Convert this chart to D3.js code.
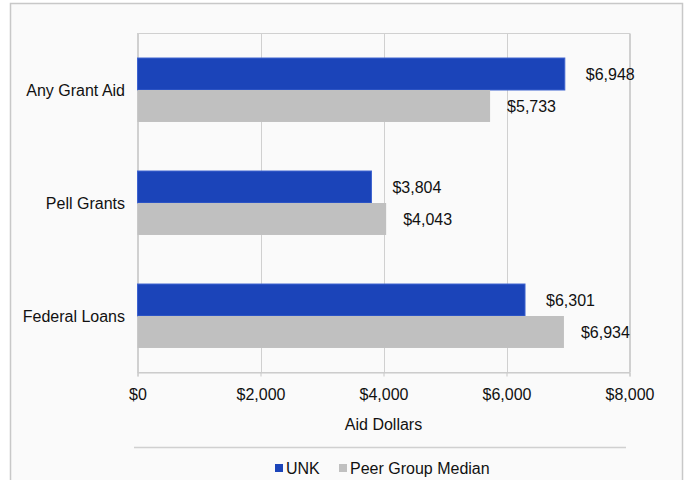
<!DOCTYPE html>
<html>
<head>
<meta charset="utf-8">
<script src="https://cdn.jsdelivr.net/npm/d3@7/dist/d3.min.js"></script>
<style>
  html, body { margin: 0; padding: 0; background: #ffffff; }
  svg { display: block; font-family: "Liberation Sans", Arial, sans-serif; }
</style>
</head>
<body>
<svg id="chart" width="686" height="480"></svg>
<script>
// Average aid amounts by type
const categories = ["Any Grant Aid", "Pell Grants", "Federal Loans"];
const seriesNames = ["UNK", "Peer Group Median"];
const unkValues = [6948, 3804, 6301];
const peerValues = [5733, 4043, 6934];
const tickValues = [0, 2000, 4000, 6000, 8000];
const axisTitle = "Aid Dollars";

const colors = { "UNK": "#1b44b9", "Peer Group Median": "#c0c0c0" };
const fmt = v => "$" + d3.format(",")(v);

const svg = d3.select("#chart");

// Chart frame
svg.append("rect")
  .attr("x", 10.5).attr("y", 3.5)
  .attr("width", 672).attr("height", 490)
  .attr("fill", "#fafafa")
  .attr("stroke", "#c8c8c8").attr("stroke-width", 1.5);

const plot = { left: 137.5, right: 629.5, top: 33.5, bottom: 372.5 };

const x = d3.scaleLinear().domain([0, 8000]).range([plot.left, plot.right]);
const y = d3.scaleBand().domain(categories)
  .range([plot.top, plot.bottom])
  .paddingInner(0.434).paddingOuter(0.217);
const ySub = d3.scaleBand().domain(seriesNames).range([0, y.bandwidth()]);

// Plot area border
svg.append("rect")
  .attr("x", plot.left).attr("y", plot.top)
  .attr("width", plot.right - plot.left).attr("height", plot.bottom - plot.top)
  .attr("fill", "none").attr("stroke", "#d0d0d0").attr("stroke-width", 1);

// Vertical gridlines
svg.append("g").selectAll("line")
  .data(tickValues)
  .join("line")
  .attr("x1", d => Math.round(x(d)) + 0.5).attr("x2", d => Math.round(x(d)) + 0.5)
  .attr("y1", plot.top).attr("y2", plot.bottom)
  .attr("stroke", "#d0d0d0").attr("stroke-width", 1);

// X axis
const xAxis = svg.append("g")
  .attr("transform", `translate(0,${plot.bottom})`)
  .call(d3.axisBottom(x).tickValues(tickValues).tickFormat(fmt).tickSizeOuter(0).tickSize(4).tickPadding(12));
xAxis.select(".domain").attr("stroke", "#c8c8c8");
xAxis.selectAll(".tick line").attr("stroke", "#c8c8c8");
xAxis.selectAll(".tick text")
  .attr("font-size", 16).attr("fill", "#111")
  .attr("font-family", "Liberation Sans, Arial, sans-serif");

svg.append("text")
  .attr("x", (plot.left + plot.right) / 2).attr("y", 430)
  .attr("text-anchor", "middle").attr("font-size", 16).attr("fill", "#111")
  .text(axisTitle);

// Category labels
svg.append("g").selectAll("text")
  .data(categories)
  .join("text")
  .attr("x", 125)
  .attr("y", d => y(d) + y.bandwidth() / 2)
  .attr("dy", "0.35em")
  .attr("text-anchor", "end").attr("font-size", 16).attr("fill", "#111")
  .text(d => d);

// Bars
const rows = categories.map((c, i) => ({
  category: c,
  values: [
    { series: "UNK", value: unkValues[i] },
    { series: "Peer Group Median", value: peerValues[i] }
  ]
}));

const groups = svg.append("g").selectAll("g")
  .data(rows)
  .join("g")
  .attr("transform", d => `translate(0,${y(d.category)})`);

groups.selectAll("rect")
  .data(d => d.values)
  .join("rect")
  .attr("x", x(0))
  .attr("y", d => ySub(d.series))
  .attr("width", d => x(d.value) - x(0))
  .attr("height", ySub.bandwidth())
  .attr("fill", d => colors[d.series])
  .attr("stroke", d => d.series === "UNK" ? "#3d62cf" : "none")
  .attr("stroke-width", 1);

groups.selectAll("text")
  .data(d => d.values)
  .join("text")
  .attr("x", d => x(d.value) + (d.series === "UNK" ? 21 : 17))
  .attr("y", d => ySub(d.series) + ySub.bandwidth() / 2)
  .attr("dy", "0.35em")
  .attr("font-size", 16).attr("fill", "#111")
  .text(d => fmt(d.value));

// Legend separator
svg.append("line")
  .attr("x1", 134).attr("x2", 626)
  .attr("y1", 447.5).attr("y2", 447.5)
  .attr("stroke", "#d0d0d0").attr("stroke-width", 1.5);

// Legend
const legendItems = [
  { name: "UNK", mx: 275, tx: 286 },
  { name: "Peer Group Median", mx: 339, tx: 350 }
];
const legend = svg.append("g").selectAll("g")
  .data(legendItems)
  .join("g");
legend.append("rect")
  .attr("x", d => d.mx).attr("y", 464)
  .attr("width", 8).attr("height", 8)
  .attr("fill", d => colors[d.name]);
legend.append("text")
  .attr("x", d => d.tx).attr("y", 468)
  .attr("dy", "0.35em")
  .attr("font-size", 16).attr("fill", "#111")
  .text(d => d.name);
</script>
</body>
</html>
